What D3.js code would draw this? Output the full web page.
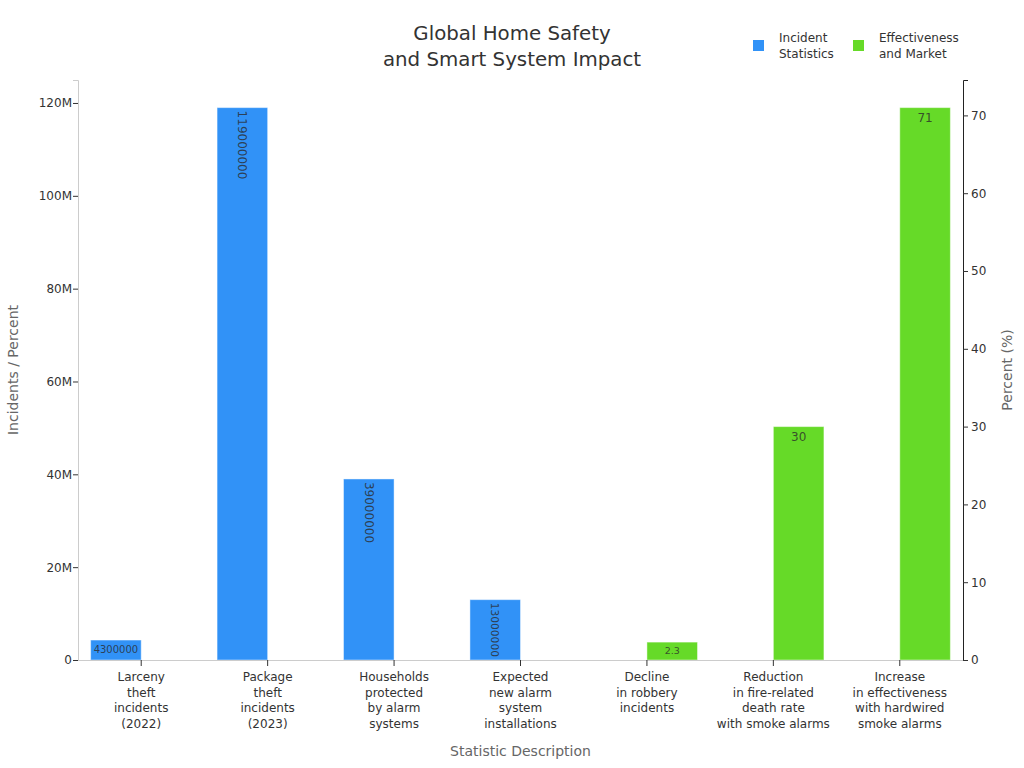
<!DOCTYPE html>
<html>
<head>
<meta charset="utf-8">
<script src="https://cdn.jsdelivr.net/npm/d3@7"></script>
<style>
  body { margin: 0; background: #fff; }
  svg, svg text { font-family: "DejaVu Sans", sans-serif; }
</style>
</head>
<body>
<svg width="1024" height="768"></svg>
<script>
'use strict';

// Values
const categories = [
    "Larceny\ntheft\nincidents\n(2022)",
    "Package\ntheft\nincidents\n(2023)",
    "Households\nprotected\nby alarm\nsystems",
    "Expected\nnew alarm\nsystem\ninstallations",
    "Decline\nin robbery\nincidents",
    "Reduction\nin fire-related\ndeath rate\nwith smoke alarms",
    "Increase\nin effectiveness\nwith hardwired\nsmoke alarms"
];
const seriesNames = ["Incident\nStatistics", "Effectiveness\nand Market"];
const incidentValues = [4300000, 119000000, 39000000, 13000000, null, null, null];
const percentValues = [null, null, null, null, 2.3, 30, 71];
const leftTicks = [0, 20e6, 40e6, 60e6, 80e6, 100e6, 120e6];
const rightTicks = [0, 10, 20, 30, 40, 50, 60, 70];

const colors = ["#3192f7", "#66da28"];

const svg = d3.select("svg"),
    margin = {top: 80, right: 61, bottom: 108, left: 78},
    width = +svg.attr("width"),
    height = +svg.attr("height"),
    x0 = margin.left,
    x1 = width - margin.right,
    y0 = height - margin.bottom,
    y1 = margin.top;

const x = d3.scaleBand()
    .domain(categories)
    .range([x0, x1])
    .padding(0);

const xSub = d3.scaleBand()
    .domain([0, 1])
    .range([0, x.bandwidth()])
    .paddingOuter(0.25)
    .paddingInner(0);

const yLeft = d3.scaleLinear()
    .domain([0, d3.max(incidentValues) * 1.05])
    .range([y0, y1]);

const yRight = d3.scaleLinear()
    .domain([0, d3.max(percentValues) * 1.05])
    .range([y0, y1]);

// Title
svg.append("text")
    .attr("x", 512)
    .attr("y", 40)
    .attr("text-anchor", "middle")
    .style("font-size", "19.8px")
    .style("fill", "#333")
    .selectAll("tspan")
    .data(["Global Home Safety", "and Smart System Impact"])
    .enter().append("tspan")
    .attr("x", 512)
    .attr("dy", (d, i) => i ? "1.32em" : 0)
    .text(d => d);

// Bars
const bars = [];
incidentValues.forEach((v, i) => { if (v != null) bars.push({cat: categories[i], s: 0, value: v, y: yLeft}); });
percentValues.forEach((v, i) => { if (v != null) bars.push({cat: categories[i], s: 1, value: v, y: yRight}); });

const barG = svg.append("g");

barG.selectAll("rect")
    .data(bars)
    .enter().append("rect")
    .attr("x", d => x(d.cat) + xSub(d.s))
    .attr("width", xSub.bandwidth())
    .attr("y", d => d.y(d.value))
    .attr("height", d => y0 - d.y(d.value))
    .style("fill", d => colors[d.s])
    .style("stroke", "rgba(255,255,255,0.45)")
    .style("stroke-width", 1);

// Labels inside the bars, rotated when that fits better
const pad = 3;
barG.selectAll("text")
    .data(bars)
    .enter().append("text")
    .each(function(d) {
        const label = String(d.value);
        const bw = xSub.bandwidth(), bh = y0 - d.y(d.value);
        const tw = label.length * 0.636 * 12, th = 12 * 1.25;
        const aw = bw - 2 * pad, ah = bh - 2 * pad;
        const sH = Math.min(1, aw / tw, ah / th);
        const sR = Math.min(1, ah / tw, aw / th);
        const cx = x(d.cat) + xSub(d.s) + bw / 2;
        const top = d.y(d.value) + pad;
        const t = d3.select(this)
            .style("fill", "#2b2b2b")
            .style("fill-opacity", 0.8)
            .text(label);
        if (sH >= sR) {
            const fs = 12 * sH;
            t.style("font-size", fs + "px")
                .attr("text-anchor", "middle")
                .attr("x", cx)
                .attr("y", top + fs * 0.95);
        } else {
            const fs = 12 * sR;
            t.style("font-size", fs + "px")
                .attr("text-anchor", "start")
                .attr("dy", "0.35em")
                .attr("transform", `translate(${cx},${top}) rotate(90)`);
        }
    });

// Bottom axis
const xAxis = svg.append("g")
    .attr("transform", `translate(0,${y0})`)
    .call(d3.axisBottom(x).tickSize(6).tickFormat(""));
xAxis.attr("font-family", null);
xAxis.select(".domain").attr("stroke", "#ccc").attr("d", `M${x0},0.5H${x1}`);
xAxis.selectAll(".tick line").attr("stroke", "#333");

xAxis.selectAll(".tick")
    .append("text")
    .attr("fill", "#333")
    .attr("text-anchor", "middle")
    .style("font-size", "12px")
    .attr("y", 21)
    .selectAll("tspan")
    .data(d => d.split("\n"))
    .enter().append("tspan")
    .attr("x", 0)
    .attr("dy", (d, i) => i ? "1.3em" : 0)
    .text(d => d);

// Left axis
const leftAxis = svg.append("g")
    .attr("transform", `translate(${x0},0)`)
    .call(d3.axisLeft(yLeft).tickValues(leftTicks).tickSize(5).tickFormat(d3.format("~s")));
leftAxis.attr("font-family", null);
leftAxis.select(".domain").attr("stroke", "#ccc");
leftAxis.selectAll(".tick line").attr("stroke", "#333");
leftAxis.selectAll(".tick text").attr("fill", "#333").style("font-size", "12px").attr("x", -6);

// Right axis
const rightAxis = svg.append("g")
    .attr("transform", `translate(${x1},0)`)
    .call(d3.axisRight(yRight).tickValues(rightTicks).tickSize(5));
rightAxis.attr("font-family", null);
rightAxis.select(".domain").attr("stroke", "#222");
rightAxis.selectAll(".tick line").attr("stroke", "#333");
rightAxis.selectAll(".tick text").attr("fill", "#333").style("font-size", "12px").attr("x", 8);

// Axis titles
svg.append("text")
    .attr("transform", `translate(18,${(y0 + y1) / 2}) rotate(-90)`)
    .attr("text-anchor", "middle")
    .style("font-size", "14px")
    .style("fill", "#666")
    .text("Incidents / Percent");

svg.append("text")
    .attr("transform", `translate(1012,${(y0 + y1) / 2}) rotate(-90)`)
    .attr("text-anchor", "middle")
    .style("font-size", "14px")
    .style("fill", "#666")
    .text("Percent (%)");

svg.append("text")
    .attr("x", (x0 + x1) / 2)
    .attr("y", 756)
    .attr("text-anchor", "middle")
    .style("font-size", "14px")
    .style("fill", "#666")
    .text("Statistic Description");

// Legend
const legend = svg.append("g")
    .selectAll("g")
    .data(seriesNames)
    .enter().append("g")
    .attr("transform", (d, i) => `translate(${753 + i * 100},40)`);

legend.append("rect")
    .attr("width", 11)
    .attr("height", 11)
    .style("fill", (d, i) => colors[i]);

legend.append("text")
    .attr("x", 26)
    .attr("y", 2)
    .style("font-size", "12px")
    .style("fill", "#333")
    .selectAll("tspan")
    .data(d => d.split("\n"))
    .enter().append("tspan")
    .attr("x", 26)
    .attr("dy", (d, i) => i ? "1.35em" : 0)
    .text(d => d);
</script>
</body>
</html>
